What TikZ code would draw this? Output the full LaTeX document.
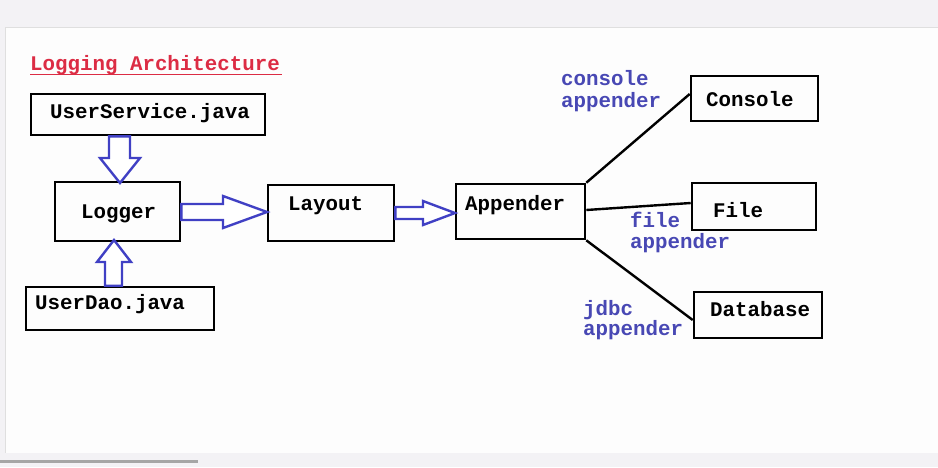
\documentclass[tikz,border=0pt]{standalone}
\usepackage{fontspec}
\newfontfamily\cour{Liberation Mono}
\definecolor{titlered}{HTML}{DC2C44}
\definecolor{lblblue}{HTML}{4848B4}
\definecolor{arrblue}{HTML}{4040C4}
\definecolor{greybg}{HTML}{F3F2F5}
\definecolor{paper}{HTML}{FDFDFD}
\tikzset{
  box/.style={draw=black, line width=2.6pt, inner sep=0pt},
  txt/.style={inner sep=0pt, anchor=base west, font=\cour\bfseries\fontsize{20.8}{22}\selectfont},
  lbl/.style={txt, text=lblblue},
  blockarrow/.style={draw=arrblue, line width=2.4pt, fill=white, line join=miter},
  conn/.style={draw=black, line width=2.4pt}
}
\begin{document}
\begin{tikzpicture}[x=1pt,y=-1pt]
\useasboundingbox (0,0) rectangle (938,467);
\fill[greybg] (0,0) rectangle (938,467);
\fill[paper] (5,27) rectangle (938,453);
\draw[gray!25, line width=1pt] (5,27.5) -- (938,27.5);
\draw[gray!25, line width=1pt] (5.5,27) -- (5.5,453);
\fill[gray!70] (0,460) rectangle (198,463);

% title
\node[txt, text=titlered] (title) at (30,70) {Logging Architecture};
\draw[titlered, line width=1pt] (30,74) -- (282,74);

% boxes
\node[box, minimum width=234pt, minimum height=41pt] (us) at (148,114.5) {};
\node[box, minimum width=125pt, minimum height=59pt] (logger) at (117.5,211.5) {};
\node[box, minimum width=188pt, minimum height=43pt] (ud) at (120,308.5) {};
\node[box, minimum width=126pt, minimum height=56pt] (layout) at (331,213) {};
\node[box, minimum width=129pt, minimum height=55pt] (app) at (520.5,211.5) {};
\node[box, minimum width=127pt, minimum height=45pt] (console) at (754.5,98.5) {};
\node[box, minimum width=124pt, minimum height=47pt] (file) at (754,206.5) {};
\node[box, minimum width=128pt, minimum height=46pt] (db) at (758,315) {};

% box texts
\node[txt] (tus) at (50,118) {UserService.java};
\node[txt] (tlog) at (81,218) {Logger};
\node[txt] (tud) at (35,309) {UserDao.java};
\node[txt] (tlay) at (288,210) {Layout};
\node[txt] (tapp) at (465,210) {Appender};
\node[txt] (tcon) at (706,106) {Console};
\node[txt] (tfile) at (713,217) {File};
\node[txt] (tdb) at (710,316) {Database};

% block arrows
\draw[blockarrow] (us.south -| 109,0) -- (109,158) -- (100,158) -- (120,183) -- (140,158) -- (130,158) -- (us.south -| 130,0) -- cycle;
\draw[blockarrow] (ud.north -| 105,0) -- (105,262) -- (97,262) -- (114,240) -- (131,262) -- (122,262) -- (ud.north -| 122,0) -- cycle;
\draw[blockarrow] (logger.east |- 0,204) -- (223,204) -- (223,196) -- (267,212) -- (223,228) -- (223,220) -- (logger.east |- 0,220) -- cycle;
\draw[blockarrow] (layout.east |- 0,207) -- (423,207) -- (423,201) -- (455,213) -- (423,225) -- (423,219) -- (layout.east |- 0,219) -- cycle;

% connectors
\draw[conn] (app.north east) -- (console.west |- 0,94);
\draw[conn] (app.east |- 0,210) -- (file.west |- 0,203);
\draw[conn] (app.south east) -- (db.west |- 0,320);

% connector labels
\node[lbl] (l1a) at (561,85) {console};
\node[lbl] (l1b) at (561,107) {appender};
\node[lbl] (l2a) at (630,227) {file};
\node[lbl] (l2b) at (630,248) {appender};
\node[lbl] (l3a) at (583,315) {jdbc};
\node[lbl] (l3b) at (583,335) {appender};
\end{tikzpicture}
\end{document}
